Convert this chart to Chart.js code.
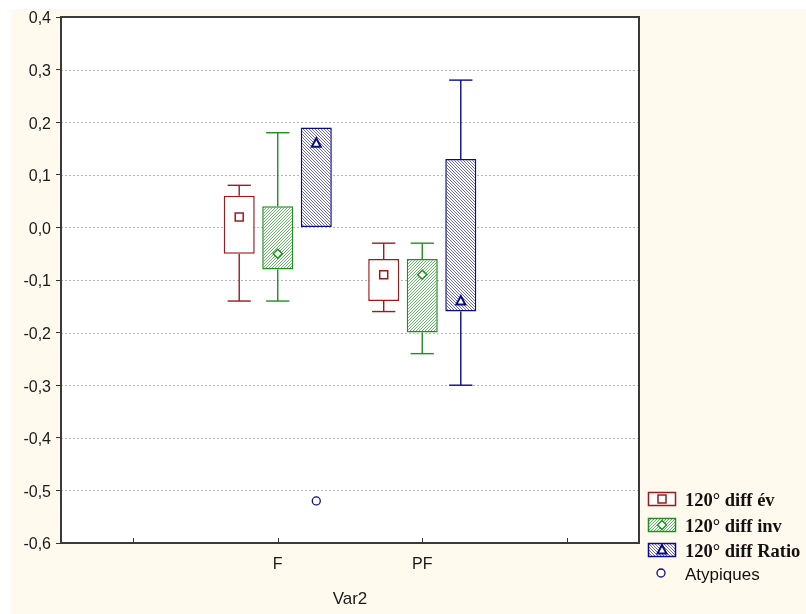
<!DOCTYPE html>
<html><head><meta charset="utf-8">
<script src="https://cdn.jsdelivr.net/npm/chart.js@4/dist/chart.umd.min.js"></script>
<style>
html,body{margin:0;padding:0;background:#fff;}
#wrap{position:relative;width:806px;height:614px;overflow:hidden;}
#c{position:absolute;left:0;top:0;}
.sw{position:absolute;}
.lt{position:absolute;white-space:nowrap;font:bold 18.5px 'Liberation Serif','Times New Roman',serif;color:#111;line-height:19px;}
.lt.sans{font:17px 'Liberation Sans',Arial,sans-serif;line-height:18px;}
</style></head>
<body><div id="wrap"><canvas id="c" width="806" height="614"></canvas><div id="legend"></div></div>
<script>
// ---- data ----
const categories = ['', 'F', 'PF', ''];
const seriesNames = ['120° diff év', '120° diff inv', '120° diff Ratio'];
const outlierName = 'Atypiques';
const axisTitle = 'Var2';
const evBox = [null, [-0.05, 0.06], [-0.14, -0.06], null];
const evWhisker = [null, [-0.14, 0.08], [-0.16, -0.03], null];
const evMarker = [null, 0.02, -0.09, null];
const invBox = [null, [-0.08, 0.04], [-0.20, -0.06], null];
const invWhisker = [null, [-0.14, 0.18], [-0.24, -0.03], null];
const invMarker = [null, -0.05, -0.09, null];
const ratioBox = [null, [0.00, 0.19], [-0.16, 0.13], null];
const ratioWhisker = [null, [0.00, 0.19], [-0.30, 0.28], null];
const ratioMarker = [null, 0.16, -0.14, null];
const ratioOutliers = [null, -0.52, null, null];
const yMin = -0.6, yMax = 0.4, yStep = 0.1;

// ---- styles ----
const colors = ['#9b1b1b', '#1f8f1f', '#0c0c82'];
const markerKinds = ['square', 'diamond', 'triangle'];
const hatchColors = [null, '#62ba62', '#6a6ac4'];
const hatchDir = [0, 1, -1];
const whiskers = [evWhisker, invWhisker, ratioWhisker];
const markers = [evMarker, invMarker, ratioMarker];
const outliers = [null, null, ratioOutliers];

function makeFill(ctx, i) {
  if (!hatchColors[i]) return '#ffffff';
  const c = document.createElement('canvas');
  c.width = 3; c.height = 3;
  const g = c.getContext('2d');
  g.fillStyle = '#ffffff'; g.fillRect(0, 0, 3, 3);
  g.fillStyle = hatchColors[i];
  for (let r = 0; r < 3; r++) {
    const x = hatchDir[i] > 0 ? (2 - r) : r;
    g.fillRect(x, r, 1, 1);
  }
  return ctx.createPattern(c, 'repeat');
}

function drawMarker(ctx, kind, x, y, color) {
  ctx.save();
  ctx.strokeStyle = color; ctx.fillStyle = '#ffffff';
  ctx.setLineDash([]);
  ctx.beginPath();
  if (kind === 'square') {
    ctx.lineWidth = 1.5;
    ctx.rect(x - 4, y - 4, 8, 8);
  } else if (kind === 'diamond') {
    ctx.lineWidth = 1.5;
    ctx.moveTo(x, y - 4.5); ctx.lineTo(x + 4.5, y); ctx.lineTo(x, y + 4.5); ctx.lineTo(x - 4.5, y); ctx.closePath();
  } else if (kind === 'triangle') {
    ctx.lineWidth = 2;
    ctx.moveTo(x, y - 5); ctx.lineTo(x + 4.5, y + 3.5); ctx.lineTo(x - 4.5, y + 3.5); ctx.closePath();
  } else {
    ctx.lineWidth = 1.3;
    ctx.arc(x, y, 4, 0, Math.PI * 2);
    ctx.stroke(); ctx.restore(); return;
  }
  ctx.fill(); ctx.stroke();
  ctx.restore();
}

const canvas = document.getElementById('c');
const ctx = canvas.getContext('2d');

const bgPlugin = {
  id: 'bg',
  beforeDraw(chart) {
    const c = chart.ctx, a = chart.chartArea;
    c.save();
    c.fillStyle = '#ffffff'; c.fillRect(0, 0, chart.width, chart.height);
    c.fillStyle = '#fff9ee'; c.fillRect(11, 9, chart.width - 11, chart.height - 9);
    c.fillStyle = '#ffffff'; c.fillRect(a.left, a.top, a.right - a.left, a.bottom - a.top);
    c.restore();
  },
  beforeDatasetsDraw(chart) {
    const c = chart.ctx, a = chart.chartArea, ys = chart.scales.y;
    c.save();
    c.strokeStyle = '#b4b4b4'; c.lineWidth = 1; c.setLineDash([2, 2]);
    ys.ticks.forEach(t => {
      const y = Math.round(ys.getPixelForValue(t.value)) + 0.5;
      if (y <= a.top + 2 || y >= a.bottom - 2) return;
      c.beginPath(); c.moveTo(a.left, y); c.lineTo(a.right, y); c.stroke();
    });
    c.restore();
  },
  afterDatasetsDraw(chart) {
    const c = chart.ctx, a = chart.chartArea, ys = chart.scales.y, xs = chart.scales.x;
    c.save();
    for (let i = 0; i < 3; i++) {
      const meta = chart.getDatasetMeta(i);
      meta.data.forEach((el, j) => {
        const box = chart.data.datasets[i].data[j];
        if (!box) return;
        const x = el.x, capW = el.width * 0.75;
        const w = whiskers[i][j];
        c.strokeStyle = colors[i]; c.lineWidth = 1.4; c.setLineDash([]);
        const segs = [[w[1], box[1]], [w[0], box[0]]];
        segs.forEach(([end, edge]) => {
          if (Math.abs(end - edge) < 1e-9) return;
          const ye = ys.getPixelForValue(end), yb = ys.getPixelForValue(edge);
          c.beginPath(); c.moveTo(x, ye); c.lineTo(x, yb); c.stroke();
          c.beginPath(); c.moveTo(x - capW / 2, ye); c.lineTo(x + capW / 2, ye); c.stroke();
        });
        const m = markers[i][j];
        if (m !== null) drawMarker(c, markerKinds[i], x, ys.getPixelForValue(m), colors[i]);
        if (outliers[i] && outliers[i][j] !== null) {
          drawMarker(c, 'circle', x, ys.getPixelForValue(outliers[i][j]), colors[2]);
        }
      });
    }
    // ticks on x axis (inside)
    c.strokeStyle = '#333'; c.lineWidth = 1;
    xs.ticks.forEach((t, k) => {
      const x = Math.round(xs.getPixelForTick(k)) + 0.5;
      c.beginPath(); c.moveTo(x, a.bottom); c.lineTo(x, a.bottom - 5); c.stroke();
    });
    // frame
    c.strokeStyle = '#3a3a3a'; c.lineWidth = 2;
    c.strokeRect(a.left, a.top, a.right - a.left, a.bottom - a.top);
    c.restore();
  }
};

Chart.defaults.font.family = "'Liberation Sans', Arial, sans-serif";
Chart.defaults.font.size = 16;
Chart.defaults.color = '#1a1a1a';

new Chart(ctx, {
  type: 'bar',
  data: {
    labels: categories,
    datasets: [evBox, invBox, ratioBox].map((d, i) => ({
      label: seriesNames[i],
      data: d,
      backgroundColor: makeFill(ctx, i),
      borderColor: colors[i],
      borderWidth: 1.5,
      borderSkipped: false,
      categoryPercentage: 0.8,
      barPercentage: 0.805
    }))
  },
  options: {
    responsive: false,
    animation: false,
    events: [],
    layout: { padding: { left: 0, right: 167, top: 17, bottom: 0 } },
    plugins: { legend: { display: false }, tooltip: { enabled: false } },
    scales: {
      x: {
        type: 'category',
        offset: true,
        grid: { display: false },
        border: { display: false },
        ticks: { padding: 4, autoSkip: false, maxRotation: 0, color: '#1a1a1a' },
        title: { display: true, text: axisTitle, font: { size: 17 }, color: '#1a1a1a', padding: { top: 4, bottom: 4 } },
        afterFit(s) { s.height = 71; }
      },
      y: {
        min: yMin, max: yMax,
        ticks: {
          stepSize: yStep, padding: 5, color: '#1a1a1a', labelOffset: 2,
          callback: v => (Math.abs(v) < 1e-9 ? 0 : v).toFixed(1).replace('.', ',')
        },
        grid: { drawOnChartArea: false, drawTicks: true, tickLength: 5, tickColor: '#333' },
        border: { display: false },
        afterFit(s) { s.width = 61; }
      }
    }
  },
  plugins: [bgPlugin]
});

// ---- legend (HTML) ----
const legend = document.getElementById('legend');
const rows = [499, 524.5, 549.5];
seriesNames.forEach((name, i) => {
  const sw = document.createElement('canvas');
  sw.width = 30; sw.height = 16; sw.className = 'sw';
  sw.style.left = '647px'; sw.style.top = (rows[i] - 8) + 'px';
  const g = sw.getContext('2d');
  g.fillStyle = makeFill(g, i); g.fillRect(1.5, 1.5, 27, 13);
  g.strokeStyle = colors[i]; g.lineWidth = 1.5; g.strokeRect(1.5, 1.5, 27, 13);
  drawMarker(g, markerKinds[i], 15, 8, colors[i]);
  legend.appendChild(sw);
  const t = document.createElement('div');
  t.className = 'lt'; t.textContent = name;
  t.style.left = '685px'; t.style.top = (rows[i] - 8) + 'px';
  legend.appendChild(t);
});
const sw = document.createElement('canvas');
sw.width = 16; sw.height = 16; sw.className = 'sw';
sw.style.left = '653px'; sw.style.top = '565px';
drawMarker(sw.getContext('2d'), 'circle', 8, 8, colors[2]);
legend.appendChild(sw);
const t = document.createElement('div');
t.className = 'lt sans'; t.textContent = outlierName;
t.style.left = '685px'; t.style.top = '566px';
legend.appendChild(t);
</script>
</body></html>
